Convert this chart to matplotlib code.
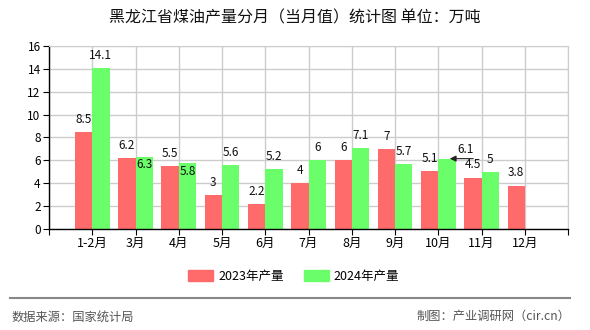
import matplotlib
matplotlib.use("Agg")
import matplotlib.pyplot as plt
import numpy as np
from matplotlib.lines import Line2D
from matplotlib.patches import Patch

plt.rcParams["font.family"] = ["Noto Sans CJK SC", "DejaVu Sans"]

months = ["1-2月", "3月", "4月", "5月", "6月", "7月", "8月", "9月", "10月", "11月", "12月"]
output_2023 = [8.5, 6.2, 5.5, 3, 2.2, 4, 6, 7, 5.1, 4.5, 3.8]
output_2024 = [14.1, 6.3, 5.8, 5.6, 5.2, 6, 7.1, 5.7, 6.1, 5]
series_names = ["2023年产量", "2024年产量"]

RED = "#ff6a6a"
GREEN = "#6aff6a"
bar_w = 0.4

# nudges for labels that would collide: (series, index) -> (dx, dy)
nudge = {
    (1, 1): (0.0, -1.8),
    (1, 2): (0.0, -1.9),
    (1, 8): (0.42, -0.25),
}

fig = plt.figure(figsize=(5.9, 3.3), dpi=100)
ax = fig.add_axes([0.083, 0.306, 0.88, 0.555])

x = np.arange(len(months))
for s, (vals, color) in enumerate([(output_2023, RED), (output_2024, GREEN)]):
    xs = x[: len(vals)] + (s - 0.5) * bar_w
    ax.bar(xs, vals, width=bar_w, color=color, zorder=2)
    for i, (xi, v) in enumerate(zip(xs, vals)):
        dx, dy = nudge.get((s, i), (0, 0))
        ax.text(xi + dx, v + 1.1 + dy, f"{v:g}", ha="center", va="center",
                fontsize=8.5, color="#111", zorder=4)

# arrow from the moved 10月 label back to its bar
ax.annotate("", xy=(8.2, output_2024[8] + 0.05), xytext=(8.87, output_2024[8] + 0.05),
            arrowprops=dict(arrowstyle="-|>", color="#222222", lw=0.8,
                            mutation_scale=9), zorder=5)

ax.set_xlim(-1, len(months))
ax.set_ylim(0, 16)
ax.set_yticks(np.arange(0, 17, 2))
ax.set_xticks(np.arange(-1, len(months) + 1))
ax.set_xticklabels([""] + months + [""])
ax.tick_params(axis="both", labelsize=8.5, length=4, color="black", pad=2)
ax.tick_params(axis="x", labelsize=9)
ax.grid(True, color="#cccccc", lw=1, zorder=0)
ax.set_axisbelow(True)
for side in ["top", "right"]:
    ax.spines[side].set_color("#cccccc")
for side in ["left", "bottom"]:
    ax.spines[side].set_color("black")
    ax.spines[side].set_linewidth(1)

fig.text(0.5, 0.945, "黑龙江省煤油产量分月（当月值）统计图 单位：万吨",
         ha="center", va="center", fontsize=11.5, color="#111")

handles = [Patch(color=RED), Patch(color=GREEN)]
fig.legend(handles, series_names, loc="center", bbox_to_anchor=(0.498, 0.163),
           ncol=2, frameon=False, fontsize=9, handlelength=2.0, handleheight=0.9,
           handletextpad=0.4, columnspacing=1.6)

fig.add_artist(Line2D([0.017, 0.966], [0.097, 0.097], color="#888888", lw=1.5))
fig.text(0.02, 0.04, "数据来源：国家统计局", ha="left", va="center",
         fontsize=8.8, color="#555555")
fig.text(0.966, 0.04, "制图：产业调研网（cir.cn）", ha="right", va="center",
         fontsize=8.8, color="#555555")

fig.savefig("out.png", dpi=100)
